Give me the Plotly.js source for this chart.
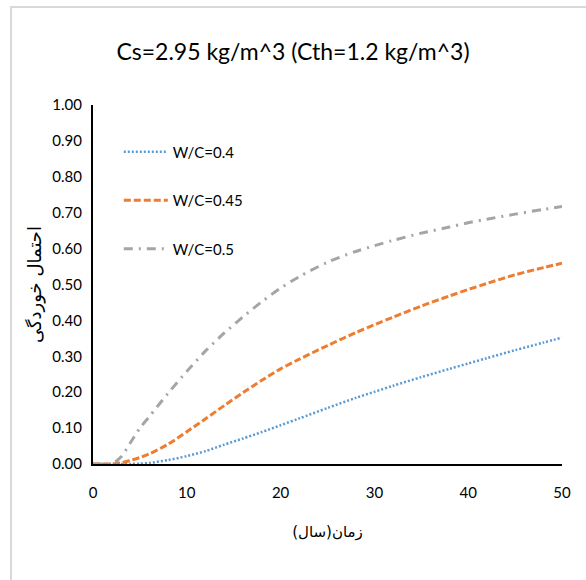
<!DOCTYPE html>
<html>
<head>
<meta charset="utf-8">
<script src="https://cdn.plot.ly/plotly-3.0.1.min.js"></script>
<style>
html,body{margin:0;padding:0;background:#fff;}
#wrap{position:relative;width:586px;height:580px;}
#chart{width:586px;height:580px;}
#frame{position:absolute;left:10px;top:6px;width:580px;height:580px;border-top:2px solid #d9d9d9;border-left:2px solid #d9d9d9;pointer-events:none;}
</style>
</head>
<body>
<div id="wrap"><div id="chart"></div><div id="frame"></div></div>
<script>
const years = [0,1,2,3,4,5,6,8,10,12,14,16,18,20,22,25,28,30,32,35,38,40,42,45,48,50];
const wc04  = [0,0,0,0,0,0.001,0.003,0.011,0.022,0.036,0.054,0.071,0.089,0.108,0.127,0.156,0.184,0.201,0.218,0.242,0.265,0.28,0.295,0.317,0.338,0.352];
const wc045 = [0,0,0,0.003,0.01,0.018,0.028,0.055,0.09,0.126,0.163,0.199,0.233,0.265,0.292,0.33,0.366,0.388,0.409,0.44,0.468,0.486,0.503,0.527,0.547,0.559];
const wc05  = [0,0,0,0.02,0.06,0.10,0.132,0.197,0.258,0.315,0.365,0.41,0.452,0.49,0.522,0.562,0.592,0.608,0.623,0.643,0.66,0.672,0.682,0.696,0.709,0.717];
const seriesNames = ['W/C=0.4','W/C=0.45','W/C=0.5'];
const titleText = 'Cs=2.95 kg/m^3 (Cth=1.2 kg/m^3)';
const xTitle = 'زمان(سال)';
const yTitle = 'احتمال خوردگی';

const FONT = 'Lato, "Open Sans", sans-serif';
const AFONT = '"DejaVu Sans", sans-serif';

const traces = [
  {x: years, y: wc04, name: seriesNames[0], mode: 'lines', legendgroup: 'a',
   line: {color: '#5B9BD5', width: 2.5, dash: '2px,2px', shape: 'spline', smoothing: 0.8}},
  {x: years, y: wc045, name: seriesNames[1], mode: 'lines', legendgroup: 'b',
   line: {color: '#ED7D31', width: 3, dash: '7px,3px', shape: 'spline', smoothing: 0.8}},
  {x: years, y: wc05, name: seriesNames[2], mode: 'lines', legendgroup: 'c',
   line: {color: '#A5A5A5', width: 3, dash: '9px,6px,2px,6px', shape: 'spline', smoothing: 0.8}}
];

const layout = {
  width: 586, height: 580,
  margin: {l: 93, r: 24, t: 105, b: 116},
  paper_bgcolor: '#fff', plot_bgcolor: '#fff',
  font: {family: FONT, color: '#000', size: 14},
  title: {text: titleText, font: {family: FONT, size: 23, color: '#000'},
          x: 0.5, xref: 'container', xanchor: 'center', y: 0.91, yref: 'container', yanchor: 'middle'},
  xaxis: {range: [0, 50], dtick: 10, tick0: 0, showgrid: false, zeroline: false,
          showline: true, linecolor: '#000', linewidth: 2, ticks: '', ticklabelstandoff: 14,
          tickfont: {family: FONT, size: 15, color: '#000'},
          title: {text: xTitle, font: {family: AFONT, size: 15, color: '#000'}, standoff: 26}},
  yaxis: {range: [0, 1], dtick: 0.1, tick0: 0, tickformat: '.2f', showgrid: false, zeroline: false,
          showline: true, linecolor: '#000', linewidth: 2, ticks: '', ticklabelstandoff: 6,
          tickfont: {family: FONT, size: 15, color: '#000'},
          title: {text: yTitle, font: {family: AFONT, size: 18, color: '#000'}, standoff: 6}},
  legend: {x: 0.055, y: 0.915, xanchor: 'left', yanchor: 'top', bgcolor: 'rgba(0,0,0,0)', itemwidth: 44,
           font: {family: FONT, size: 15, color: '#000'}, tracegroupgap: 26},
  showlegend: true
};

Plotly.newPlot('chart', traces, layout, {displayModeBar: false, staticPlot: true});
</script>
</body>
</html>
